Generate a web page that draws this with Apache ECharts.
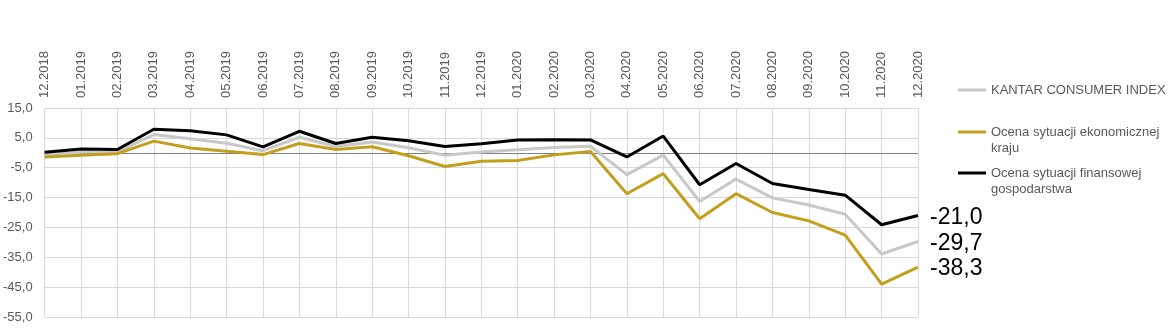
<!DOCTYPE html>
<html>
<head>
<meta charset="utf-8">
<script src="https://cdn.jsdelivr.net/npm/echarts@6/dist/echarts.min.js"></script>
<style>
  html, body { margin: 0; padding: 0; background: #fff; }
  #chart { width: 1173px; height: 336px; }
</style>
</head>
<body>
<div id="chart"></div>
<script>
// Monthly periods shown along the top axis
const months = ['12.2018','01.2019','02.2019','03.2019','04.2019','05.2019','06.2019','07.2019','08.2019','09.2019','10.2019','11.2019','12.2019',
                '01.2020','02.2020','03.2020','04.2020','05.2020','06.2020','07.2020','08.2020','09.2020','10.2020','11.2020','12.2020'];

// Series names and their wrapped legend captions
// (a leading blank line keeps the legend line level with the first text row)
const nameKci = 'KANTAR CONSUMER INDEX';
const nameEcon = 'Ocena sytuacji ekonomicznej kraju';
const nameFin = 'Ocena sytuacji finansowej gospodarstwa';
const legendCaptions = {
  [nameKci]: 'KANTAR CONSUMER INDEX',
  [nameEcon]: '\nOcena sytuacji ekonomicznej\nkraju',
  [nameFin]: '\nOcena sytuacji finansowej\ngospodarstwa'
};

// Index values
const kantarIndex = [-0.6, 0.2, 0.3, 6.1, 4.7, 3.2, 0.7, 5.2, 2.1, 3.6, 1.7, -0.8, 0.3,
                     1.0, 1.8, 2.2, -7.3, -0.8, -16.3, -8.8, -15.1, -17.5, -20.6, -33.9, -29.7];
const economyRating = [-1.4, -0.8, -0.3, 3.9, 1.6, 0.5, -0.6, 3.1, 1.1, 2.0, -1.0, -4.6, -2.8,
                       -2.6, -0.7, 0.4, -13.7, -7.0, -22.1, -13.7, -20.0, -22.8, -27.6, -44.0, -38.3];
const householdRating = [0.2, 1.3, 1.1, 7.9, 7.4, 6.0, 2.0, 7.2, 3.1, 5.2, 4.0, 2.1, 3.0,
                         4.3, 4.4, 4.3, -1.4, 5.6, -10.7, -3.6, -10.3, -12.3, -14.2, -24.1, -21.0];

// Value axis range
const yMin = -55, yMax = 15, yStep = 10;

const FONT = 'Liberation Sans, Arial, sans-serif';
const fmt = v => v.toFixed(1).replace('.', ',');

const lineSeries = (name, data, color) => ({
  name, type: 'line', data,
  symbol: 'none', showSymbol: false,
  lineStyle: { color, width: 3 },
  itemStyle: { color },
  endLabel: {
    show: true,
    distance: 12,
    offset: [0, 2],
    fontSize: 23,
    fontFamily: FONT,
    color: '#000',
    formatter: p => fmt(p.value)
  },
  emphasis: { disabled: true },
  z: 3
});

const legendText = { fontSize: 13, fontFamily: FONT, color: '#595959', lineHeight: 16 };
const legendBase = {
  left: 953, itemWidth: 28, itemHeight: 3, itemGap: 0, icon: 'rect',
  selectedMode: false, formatter: n => legendCaptions[n], textStyle: legendText
};

const chart = echarts.init(document.getElementById('chart'), null, { renderer: 'canvas' });
chart.setOption({
  animation: false,
  backgroundColor: '#fff',
  grid: { left: 44, right: 255, top: 108, bottom: 19, containLabel: false },
  legend: [
    Object.assign({}, legendBase, { data: [nameKci], top: 77 }),
    Object.assign({}, legendBase, { data: [nameEcon], top: 103 }),
    Object.assign({}, legendBase, { data: [nameFin], top: 144 })
  ],
  xAxis: {
    type: 'category',
    data: months,
    position: 'top',
    boundaryGap: false,
    axisLine: { show: false },
    axisTick: { show: false },
    axisLabel: { rotate: 90, margin: 10, fontSize: 13, fontFamily: FONT, color: '#595959', interval: 0 },
    splitLine: { show: true, lineStyle: { color: '#d9d9d9', width: 1 } }
  },
  yAxis: {
    type: 'value',
    min: yMin, max: yMax, interval: yStep,
    axisLine: { show: false },
    axisTick: { show: false },
    axisLabel: { margin: 12, fontSize: 13, fontFamily: FONT, color: '#595959', formatter: fmt },
    splitLine: { show: true, lineStyle: { color: '#d9d9d9', width: 1 } }
  },
  series: [
    Object.assign(lineSeries(nameKci, kantarIndex, '#c8c8c8'), {
      markLine: {
        silent: true, symbol: 'none', label: { show: false },
        lineStyle: { color: '#7f7f7f', width: 1, type: 'solid' },
        data: [{ yAxis: 0 }], z: 1
      }
    }),
    lineSeries(nameEcon, economyRating, '#c49f1e'),
    lineSeries(nameFin, householdRating, '#000000')
  ]
});
</script>
</body>
</html>
